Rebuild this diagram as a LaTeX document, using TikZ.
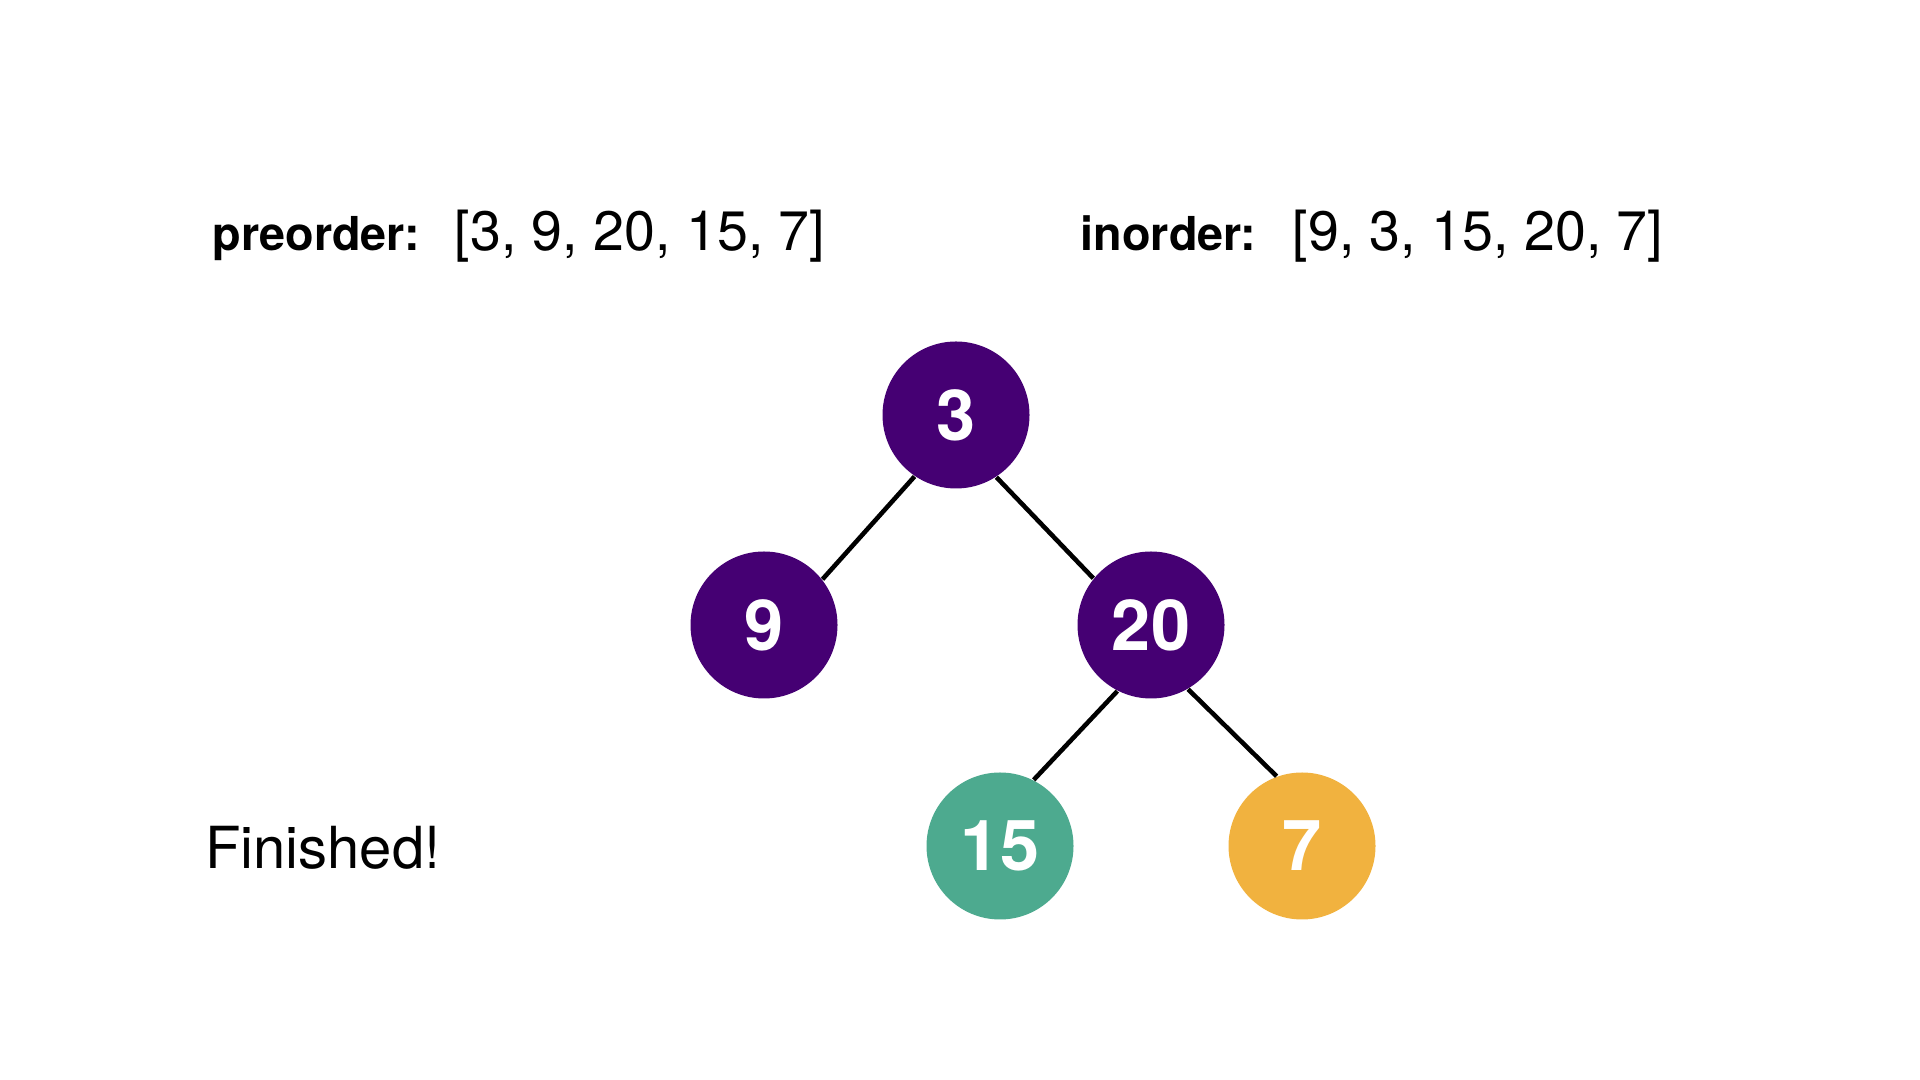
\documentclass[tikz,border=0pt]{standalone}
\usepackage{fontspec}
\setmainfont{TeX Gyre Heros}
\usetikzlibrary{positioning}
\definecolor{btPurple}{RGB}{69,0,115}
\definecolor{btGreen}{RGB}{77,170,143}
\definecolor{btOrange}{RGB}{241,178,63}

\begin{document}
\begin{tikzpicture}[
    treenode/.style={circle, fill=btPurple, minimum size=1.47cm, inner sep=0pt, text=white, font=\fontsize{20}{24}\selectfont\bfseries},
    placed/.style={fill=btGreen},
    current/.style={fill=btOrange},
    branch/.style={draw=black, line width=1.3pt},
    order label/.style={anchor=base west, inner sep=0pt, font=\fontsize{13.3}{16}\selectfont\bfseries},
    order list/.style={anchor=base west, inner sep=0pt, font=\fontsize{15.8}{19}\selectfont}
]
  \useasboundingbox (0,0) rectangle (19.2,10.8);

  % traversal lists
  \node[order label] (preLabel) at (2.12,8.29) {preorder:};
  \node[order list] (preList) at (4.54,8.29) {[3, 9, 20, 15, 7]};
  \node[order label] (inLabel) at (10.80,8.29) {inorder:};
  \node[order list] (inList) at (12.92,8.29) {[9, 3, 15, 20, 7]};

  % tree
  \node[treenode] (n3) at (9.56,6.65) {3};
  \node[treenode] (n9) at (7.64,4.55) {9};
  \node[treenode] (n20) at (11.51,4.55) {20};
  \node[treenode, placed] (n15) at (10.00,2.34) {15};
  \node[treenode, current] (n7) at (13.02,2.34) {7};

  \draw[branch] (n3.236) -- (n9.38);
  \draw[branch] (n3.303) -- (n20.141);
  \draw[branch] (n20.243) -- (n15.63);
  \draw[branch] (n20.300) -- (n7.110);

  \node[order list, font=\fontsize{16.5}{20}\selectfont] (status) at (2.045,2.11) {Finished!};
\end{tikzpicture}
\end{document}
